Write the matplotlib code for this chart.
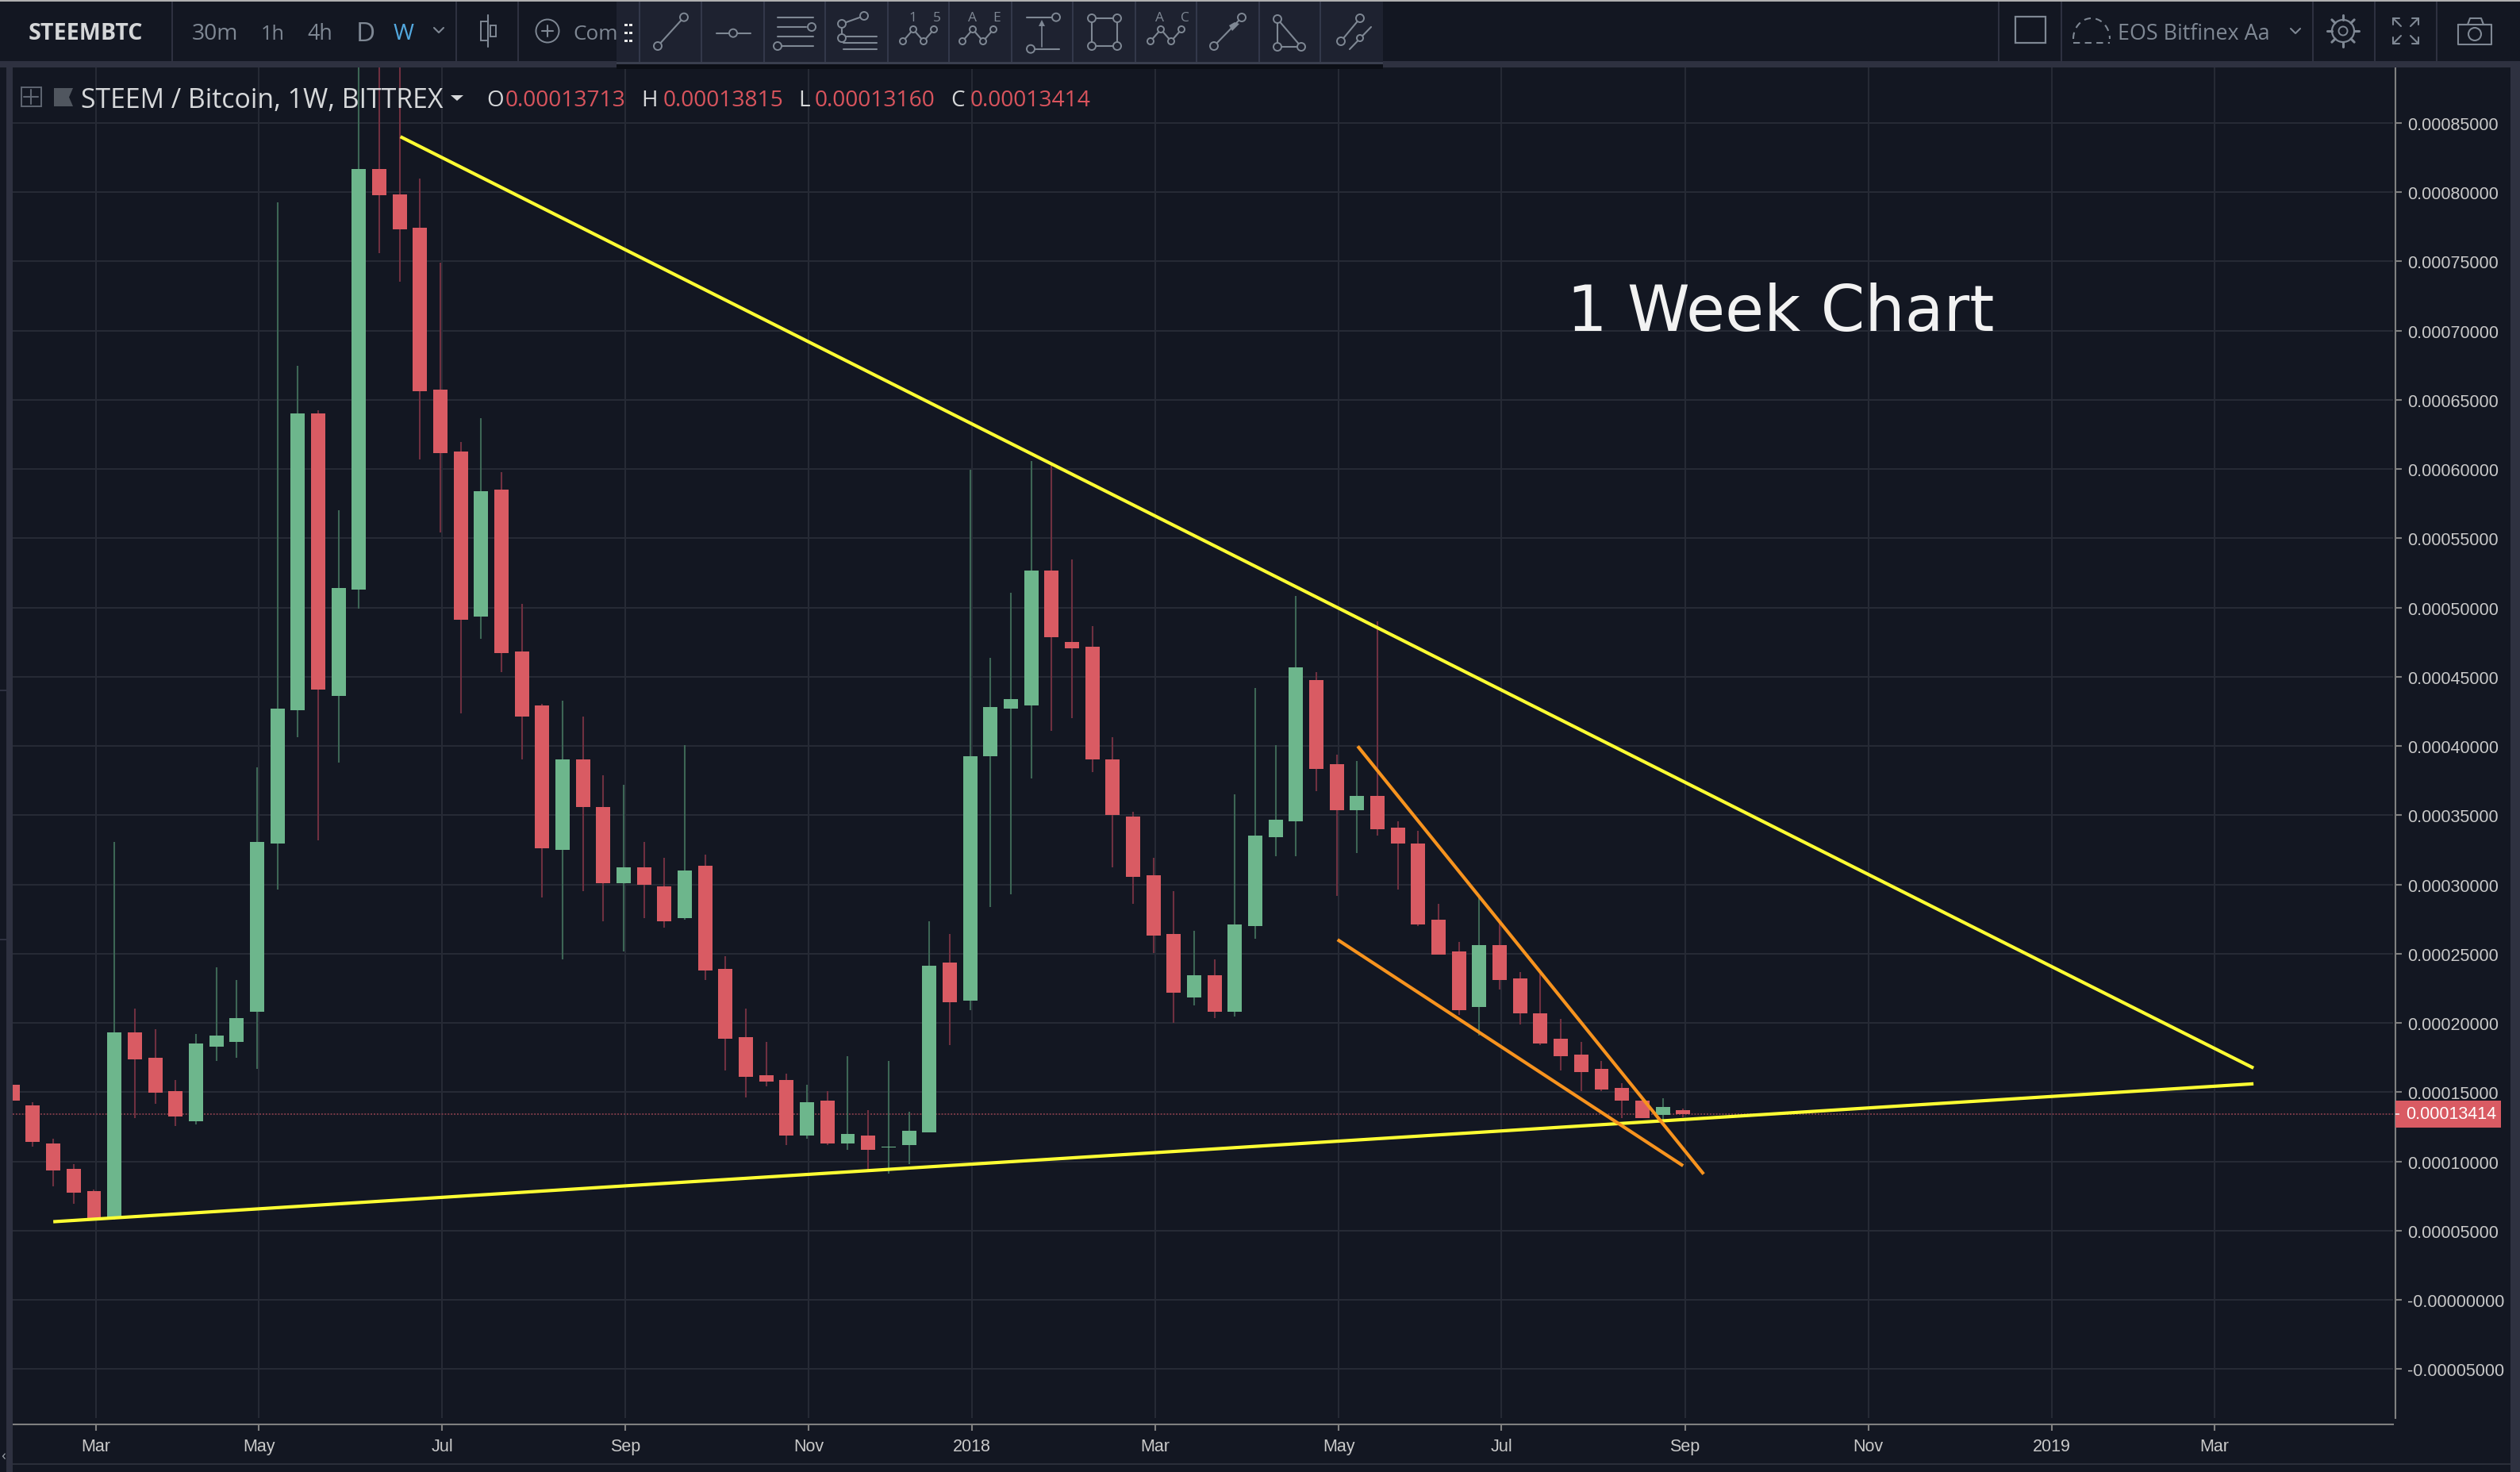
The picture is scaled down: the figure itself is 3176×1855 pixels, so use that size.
import numpy as np
import matplotlib
matplotlib.use('Agg')
import matplotlib.pyplot as plt
from matplotlib.patches import Rectangle, Circle, Polygon
from matplotlib.transforms import ScaledTranslation

# weekly candles, prices in units of 1e-5 BTC
opens = [15.52, 14.03, 11.28, 9.47, 7.86, 5.90, 19.32, 17.48, 15.08, 12.89, 18.27, 18.62, 20.81, 32.94, 42.56, 64.02,
         43.62, 51.30, 81.65, 79.84, 77.41, 65.72, 61.27, 49.34, 58.52, 46.83, 42.91, 32.48, 39.03, 35.58, 30.08,
         31.24, 29.87, 27.55, 31.34, 23.90, 18.96, 16.22, 15.87, 11.87, 14.40, 11.27, 11.87, 10.99, 11.17, 12.08,
         24.36, 21.59, 39.24, 42.67, 42.92, 52.67, 47.52, 47.16, 39.03, 34.89, 30.64, 26.43, 21.82, 23.43, 20.80,
         27.00, 33.40, 34.54, 44.75, 38.69, 35.36, 36.38, 34.10, 32.96, 27.44, 25.16, 21.15, 25.62, 23.20, 20.68,
         18.84, 17.70, 16.68, 15.30, 14.40, 13.34, 13.713]
closes = [14.38, 11.40, 9.35, 7.74, 5.90, 19.32, 17.36, 14.96, 13.24, 18.50, 19.09, 20.34, 33.06, 42.68, 64.02, 44.08,
          51.39, 81.65, 79.75, 77.30, 65.63, 61.15, 49.11, 58.41, 46.71, 42.13, 32.59, 39.03, 35.58, 30.08, 31.22,
          29.97, 27.34, 31.00, 23.77, 18.85, 16.11, 15.76, 11.87, 14.26, 11.27, 11.98, 10.82, 11.06, 12.22, 24.11,
          21.48, 39.24, 42.81, 43.38, 52.67, 47.83, 47.06, 39.03, 35.03, 30.53, 26.29, 22.19, 23.45, 20.80, 27.12,
          33.52, 34.66, 45.68, 38.34, 35.36, 36.38, 33.99, 32.96, 27.12, 24.92, 20.92, 25.62, 23.08, 20.68, 18.52,
          17.58, 16.44, 15.19, 14.40, 13.11, 13.93, 13.414]
highs = [15.52, 14.26, 11.63, 9.82, 7.97, 33.06, 21.02, 19.55, 15.87, 19.20, 24.00, 23.09, 38.44, 79.26, 67.44, 64.25,
         57.00, 91.00, 93.00, 95.00, 80.98, 74.90, 61.94, 63.67, 59.78, 50.25, 43.03, 43.27, 42.13, 37.89, 37.18,
         33.06, 31.90, 40.04, 32.15, 24.82, 21.03, 18.61, 16.33, 15.52, 15.06, 17.59, 13.70, 17.24, 13.59, 27.34,
         26.43, 59.97, 46.36, 51.06, 60.57, 60.43, 53.48, 48.64, 40.64, 35.24, 31.90, 29.52, 26.65, 24.57, 36.50,
         44.19, 40.07, 50.83, 45.33, 39.37, 38.90, 48.99, 34.54, 33.87, 28.61, 25.86, 29.25, 27.23, 23.64, 23.55,
         20.30, 18.61, 17.26, 15.65, 14.57, 14.57, 13.815]
lows = [14.38, 11.08, 8.18, 6.92, 5.78, 5.78, 13.12, 14.14, 12.54, 12.65, 17.24, 17.48, 16.69, 29.61, 40.63, 33.18,
        38.79, 49.93, 75.60, 73.52, 60.69, 55.42, 42.36, 47.76, 45.34, 39.03, 29.06, 24.58, 29.52, 27.33, 25.17,
        27.55, 26.89, 27.45, 23.10, 16.57, 14.61, 15.41, 11.17, 11.62, 11.17, 10.82, 9.41, 9.13, 9.80, 12.08,
        18.40, 20.92, 28.36, 29.27, 37.66, 41.10, 42.01, 38.11, 31.24, 28.61, 25.03, 20.01, 21.27, 20.33, 20.45,
        26.06, 32.03, 32.03, 36.73, 29.16, 32.26, 33.52, 29.63, 27.00, 24.92, 20.57, 19.08, 22.41, 19.89, 18.40,
        16.56, 15.07, 15.07, 13.11, 13.11, 13.02, 13.160]

month_weeks = [4, 12, 21, 30, 39, 47, 56, 65, 73, 82, 91, 100, 108]
month_labels = ['Mar', 'May', 'Jul', 'Sep', 'Nov', '2018', 'Mar', 'May', 'Jul', 'Sep', 'Nov', '2019', 'Mar']
price_ticks = [85, 80, 75, 70, 65, 60, 55, 50, 45, 40, 35, 30, 25, 20, 15, 10, 5, 0, -5]
price_labels = ['0.00085000', '0.00080000', '0.00075000', '0.00070000', '0.00065000', '0.00060000', '0.00055000',
                '0.00050000', '0.00045000', '0.00040000', '0.00035000', '0.00030000', '0.00025000', '0.00020000',
                '0.00015000', '0.00010000', '0.00005000', '-0.00000000', '-0.00005000']
last_price = 13.414

# drawn trend lines as (week, price) end points
upper_trend = ([19.04, 110.0], [84.0, 16.74])
lower_trend = ([2.0, 110.0], [5.64, 15.6])
wedge_top = ([66.03, 83.01], [39.98, 9.08])
wedge_bottom = ([65.04, 82.0], [26.01, 9.68])

BG = '#131722'
BAND = '#2e3140'
GRID = '#262a35'
GREEN = '#6db68c'
RED = '#d95b63'
GREEN_WICK = '#3d6655'
RED_WICK = '#6f3040'
YELLOW = '#ffff33'
ORANGE = '#f7931e'
ICON = '#7f8894'
W, H = 3176, 1856

fig = plt.figure(figsize=(W / 100, H / 100), dpi=100, facecolor=BG)

# main price pane
ax = fig.add_axes([16 / W, 1 - 1787.6 / H, 3000 / W, (1787.6 - 86) / H], facecolor=BG)
ax.set_xlim(0.008, 116.85)
ax.set_ylim(-8.516, 89.0)

weeks = np.arange(len(opens))
o, c = np.array(opens), np.array(closes)
up = c >= o
ax.vlines(weeks[up], np.array(lows)[up], np.array(highs)[up], color=GREEN_WICK, lw=1.5, zorder=3)
ax.vlines(weeks[~up], np.array(lows)[~up], np.array(highs)[~up], color=RED_WICK, lw=1.5, zorder=3)
ax.bar(weeks, np.abs(c - o), bottom=np.minimum(o, c), width=0.7, color=np.where(up, GREEN, RED), lw=0, zorder=4)

ax.axhline(last_price, color='#7a3a48', lw=1.4, ls=(0, (1, 1)), zorder=2.5)
for line in [upper_trend, lower_trend]:
    ax.plot(line[0], line[1], color=YELLOW, lw=3.0, solid_capstyle='butt', zorder=5)
for line in [wedge_top, wedge_bottom]:
    ax.plot(line[0], line[1], color=ORANGE, lw=3.0, solid_capstyle='butt', zorder=5)

ax.set_xticks(np.array(month_weeks) + 0.09)
ax.set_xticklabels(month_labels)
ax.set_yticks(price_ticks)
ax.set_yticklabels(price_labels)
ax.yaxis.tick_right()
ax.grid(True, color=GRID, lw=1.5, zorder=0)
ax.set_axisbelow(True)
ax.tick_params(axis='both', colors='#808080', labelcolor='#c9c9c9', length=5.5, width=1.5, labelsize=15.5,
               labelfontfamily='Liberation Sans')
ax.tick_params(axis='y', pad=5)
ax.tick_params(axis='x', pad=7)
for tick_text in ax.get_yticklabels():
    tick_text.set_verticalalignment('center')
    tick_text.set_transform(tick_text.get_transform() + ScaledTranslation(0, -2 / 100, fig.dpi_scale_trans))
for side in ['top', 'left']:
    ax.spines[side].set_visible(False)
ax.spines['right'].set_position(('outward', 2.2))
ax.spines['bottom'].set_position(('outward', 5.8))
for side in ['right', 'bottom']:
    ax.spines[side].set_color('#808080')
    ax.spines[side].set_linewidth(1.5)

# overlay in image pixels for the trading-view chrome
ov = fig.add_axes([0, 0, 1, 1], facecolor='none')
ov.set_xlim(0, W)
ov.set_ylim(H, 0)
ov.axis('off')
renderer = fig.canvas.get_renderer()


def rect(x0, y0, x1, y1, color, z=1):
    ov.add_patch(Rectangle((x0, y0), x1 - x0, y1 - y0, fc=color, ec='none', zorder=z))


def seg(x, y, color=ICON, lw=1.5, z=6, **kw):
    ov.plot(x, y, color=color, lw=lw, zorder=z, solid_capstyle='round', **kw)


def dot(x, y, r=5, z=7):
    ov.add_patch(Circle((x, y), r, fc='#1e2230', ec=ICON, lw=1.4, zorder=z))


def label(x, y, s, width=None, color='#c9c9c9', size=15, family='Open Sans', ha='left', z=8, **kw):
    t = ov.text(x, y + 3, s, color=color, fontsize=size, family=family, ha=ha, va='center', zorder=z, **kw)
    if width:
        t.set_fontsize(size * width / t.get_window_extent(renderer).width)
    return t


# bands around the panes
rect(0, 0, W, 86, BG)
rect(0, 0, W, 2.5, '#b0b0b0', 2)
rect(0, 78, W, 86, BAND, 2)
rect(8, 78, 16, H, BAND, 2)
rect(3164, 78, W, H, BAND, 2)
rect(0, 1796.5, 16, H, BG, 1)
rect(16, 1845, 3164, 1847, '#2a2e39', 2)
for y in [870, 1184]:
    rect(0, y, 8, y + 2, BAND, 2)
for x in [217, 575, 653, 2519, 2598, 2915, 2993, 3071]:
    rect(x - 1, 2.5, x + 1, 78, BAND, 2)

# left toolbar
label(36, 40, 'STEEMBTC', width=144, color='#d4d6d8', weight='bold')
for x, s, w, col in [(242, '30m', 58, ICON), (329, '1h', 30, ICON), (387, '4h', 32, ICON), (449, 'D', 24, ICON),
                     (496, 'W', 26, '#53a9e0')]:
    label(x, 40, s, width=w, color=col)
seg([547, 553, 559], [36, 42, 36])
seg([615, 615], [20, 60])
ov.add_patch(Rectangle((606, 28), 9, 24, fc='none', ec=ICON, lw=1.4, zorder=6))
ov.add_patch(Rectangle((618, 33), 7, 14, fc='none', ec=ICON, lw=1.4, zorder=6))
ov.add_patch(Circle((690, 40), 14.5, fc='none', ec=ICON, lw=1.4, zorder=6))
seg([683, 697], [40, 40])
seg([690, 690], [33, 47])
label(722, 40, 'Compare', width=112, color=ICON, z=3)

# floating drawing toolbar
rect(777, 3, 1743, 81, '#1e2230', 4)
rect(777, 79, 1743, 82, '#3a3f4e', 5)
rect(777, 82, 1743, 88, '#0c0f16', 4)
for x in [806, 884, 963, 1040, 1119, 1196, 1275, 1352, 1431, 1508, 1587, 1664]:
    rect(x - 0.7, 3, x + 0.7, 79, '#33384a', 5)
for y in [32, 42, 52]:
    rect(787, y - 1.5, 791, y + 1.5, '#e8e8e8', 6)
    rect(793, y - 1.5, 797, y + 1.5, '#e8e8e8', 6)

seg([829, 862], [59, 22.7])
dot(829, 59)
dot(862, 22.7)
seg([903, 946], [42.7, 42.7])
dot(924, 42.7)
seg([980, 1025], [22.7, 22.7])
seg([980, 1016], [35, 35])
dot(1023, 35)
seg([980, 1025], [46.7, 46.7])
seg([985, 1025], [59, 59])
dot(980, 59)
seg([1061, 1089], [31, 21])
seg([1061, 1061], [31, 50])
for y in [47, 55, 63]:
    seg([1063, 1105], [y, y])
dot(1089, 21)
dot(1061, 31)
dot(1061, 49)
for dx, left, right in [(1138, '1', '5'), (1213, 'A', 'E'), (1450, 'A', 'C')]:
    xs = [dx, dx + 13, dx + 26, dx + 39]
    ys = [53, 38, 53, 38]
    seg(xs, ys)
    for a, b in zip(xs, ys):
        dot(a, b, 4)
    label(dx + 12, 20, left, color=ICON, size=12.5, ha='center')
    label(dx + 43, 20, right, color=ICON, size=12.5, ha='center')
seg([1294, 1331], [22.7, 22.7])
dot(1331, 22.7)
seg([1313, 1335], [62.7, 62.7])
seg([1299, 1313], [62.7, 62.7])
dot(1299, 62.7)
seg([1313, 1313], [30, 60], lw=1.2)
ov.add_patch(Polygon([[1309, 34], [1317, 34], [1313, 26]], fc=ICON, ec='none', zorder=6))
seg([1376, 1408, 1408, 1376, 1376], [24, 24, 59, 59, 24])
for a, b in [(1376, 24), (1408, 24), (1376, 59), (1408, 59)]:
    dot(a, b)
seg([1530, 1565], [59, 23])
dot(1530, 59)
dot(1565, 23)
ov.add_patch(Polygon([[1553, 40], [1562, 31], [1556, 29], [1549, 33]], fc=ICON, ec='none', zorder=6))
seg([1610, 1610, 1640, 1610], [25, 60, 60, 25])
dot(1610, 25)
dot(1610, 60)
dot(1640, 60)
seg([1690, 1714], [53, 24])
dot(1690, 53)
dot(1714, 24)
seg([1701, 1728], [63, 35])
dot(1714, 49, 4)

# right toolbar
ov.add_patch(Rectangle((2540, 22), 38, 33, fc='none', ec=ICON, lw=1.6, zorder=6))
arc = np.linspace(np.pi, 2 * np.pi, 30)
seg(2636 + 23 * np.cos(arc), 50 + 26 * np.sin(arc), ls=(0, (4, 3)))
seg([2613, 2659], [55, 55], ls=(0, (4, 3)))
label(2669, 40, 'EOS Bitfinex Aa', width=192, color=ICON)
seg([2887, 2893, 2899], [37, 43, 37])
ov.add_patch(Circle((2953, 40), 14, fc='none', ec=ICON, lw=1.6, zorder=6))
ov.add_patch(Circle((2953, 40), 5.5, fc='none', ec=ICON, lw=1.4, zorder=6))
for a in np.arange(8) * np.pi / 4:
    seg([2953 + 14 * np.cos(a), 2953 + 20 * np.cos(a)], [40 + 14 * np.sin(a), 40 + 20 * np.sin(a)], lw=2.2)
for sx, sy in [(3016, 24), (3048, 24), (3016, 56), (3048, 56)]:
    dx = 1 if sx == 3016 else -1
    dy = 1 if sy == 24 else -1
    seg([sx, sx + dx * 10], [sy, sy + dy * 10])
    seg([sx, sx + dx * 8], [sy, sy])
    seg([sx, sx], [sy, sy + dy * 8])
seg([3098, 3098, 3140, 3140, 3098], [32, 57, 57, 32, 32])
seg([3098, 3110, 3113, 3127, 3130, 3140], [32, 32, 24, 24, 32, 32])
ov.add_patch(Circle((3119, 44), 8, fc='none', ec=ICON, lw=1.5, zorder=6))

# legend row
ov.add_patch(Rectangle((26.5, 111), 25, 24, fc='none', ec='#5f6672', lw=1.4, zorder=7))
seg([30, 48], [123, 123], color='#5f6672')
seg([39, 39], [114, 132], color='#5f6672')
ov.add_patch(Polygon([[68, 112], [92, 112], [87, 123.5], [92, 135], [68, 135]], fc='#50565f', ec='none', zorder=7))
label(102.5, 124, 'STEEM / Bitcoin, 1W, BITTREX', width=458, color='#d6d8da')
ov.add_patch(Polygon([[568, 121], [584, 121], [576, 128]], fc='#d6d8da', ec='none', zorder=7))
for x, s, vx, v in [(613, 'O', 637, '0.00013713'), (808, 'H', 836, '0.00013815'), (1006, 'L', 1027, '0.00013160'),
                    (1198, 'C', 1223, '0.00013414')]:
    label(x, 124, s, color='#d6d8da', size=20)
    label(vx, 124, v, width=152, color='#d9545d')

# last price tag on the axis
rect(3018.5, 1388, 3152, 1421.6, RED, 6)
rect(3019, 1404, 3024, 1406, '#f0d0d3', 7)
ov.text(3032, 1405, '0.00013414', color='white', fontsize=15.5, family='Liberation Sans', va='center', zorder=8)

label(1975, 392, '1 Week Chart', width=539, color='#f2f2f2', size=60, family='DejaVu Sans')
label(1, 1832, '\u2039', color='#9aa0a8', size=14)

fig.savefig('out.png', dpi=100, facecolor=BG)
